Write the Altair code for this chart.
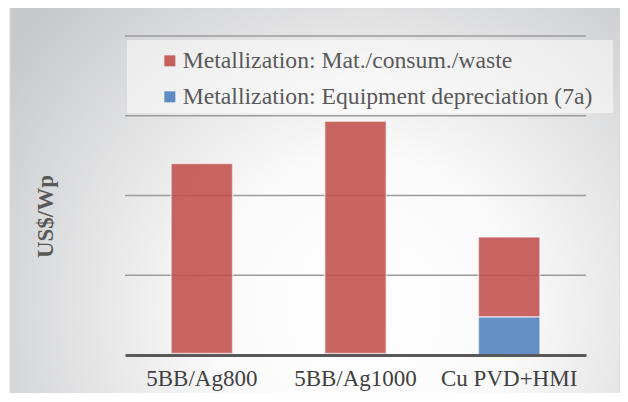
import altair as alt
import pandas as pd

categories = ["5BB/Ag800", "5BB/Ag1000", "Cu PVD+HMI"]
series_names = ["Metallization: Mat./consum./waste", "Metallization: Equipment depreciation (7a)"]
mat_values = [0.0238, 0.0291, 0.0100]
equip_values = [0.0002, 0.0002, 0.0048]
grid_ticks = [0.01, 0.02, 0.03, 0.04]

rows = []
for c, m, e in zip(categories, mat_values, equip_values):
    rows.append({"cat": c, "series": series_names[1], "value": e, "ord": 1})
    rows.append({"cat": c, "series": series_names[0], "value": m, "ord": 2})
df = pd.DataFrame(rows)

FONT = "Liberation Serif"
RED = "#C0504D"
BLUE = "#4F81BD"

yscale = alt.Scale(domain=[0, 0.04])
y_axis = alt.Axis(
    title="US$/Wp",
    titleFont=FONT,
    titleFontSize=23,
    titleFontWeight="bold",
    titleColor="#595959",
    titleX=-80,
    titleY=180,
    titleAngle=270,
    titleAlign="center",
    titleBaseline="middle",
    labels=False,
    ticks=False,
    domain=False,
    grid=False,
    zindex=1,
)
one = pd.DataFrame({"a": [0]})

bg = alt.Chart(one).mark_rect(
    fill={
        "gradient": "radial",
        "x1": 0.58, "y1": 0.68, "r1": 0,
        "x2": 0.58, "y2": 0.68, "r2": 0.72,
        "stops": [
            {"offset": 0, "color": "#ffffff"},
            {"offset": 0.35, "color": "#fafafa"},
            {"offset": 1, "color": "#c7c8ca"},
        ],
    },
    stroke="#d9d9d9",
    strokeWidth=1,
    clip=False,
).encode(
    x=alt.value(-115), x2=alt.value(495), y=alt.value(-32), y2=alt.value(362)
)

legend_bg = alt.Chart(one).mark_rect(
    fill="#ffffff", fillOpacity=0.5, clip=False
).encode(
    x=alt.value(2), x2=alt.value(488), y=alt.value(4), y2=alt.value(77)
)

grid = alt.Chart(pd.DataFrame({"t": grid_ticks})).mark_rule(
    color="#9c9c9c", strokeWidth=1.5
).encode(y=alt.Y("t:Q", scale=yscale, axis=y_axis))

bars = alt.Chart(df).mark_bar(
    fillOpacity=0.88, stroke="#ffffff", strokeOpacity=0.55, strokeWidth=1.5
).encode(
    x=alt.X(
        "cat:N",
        sort=categories,
        scale=alt.Scale(paddingInner=0.6, paddingOuter=0.3),
        axis=alt.Axis(
            title=None,
            labelFont=FONT,
            labelFontSize=23,
            labelColor="#404040",
            labelAngle=0,
            labelPadding=12,
            ticks=False,
            domainColor="#595959",
            domainWidth=3,
            zindex=1,
        ),
    ),
    y=alt.Y("value:Q", stack="zero", scale=yscale, axis=y_axis),
    color=alt.Color(
        "series:N",
        scale=alt.Scale(domain=series_names, range=[RED, BLUE]),
        legend=alt.Legend(
            title=None,
            orient="none",
            legendX=33,
            legendY=13,
            padding=0,
            symbolType="square",
            symbolSize=121,
            symbolStrokeWidth=0,
            symbolOpacity=0.9,
            labelFont=FONT,
            labelFontSize=23.7,
            labelColor="#595959",
            labelOffset=1,
            rowPadding=11,
            labelLimit=600,
        ),
    ),
    order=alt.Order("ord:Q"),
)

chart = alt.layer(bg, legend_bg, grid, bars).properties(
    width=461,
    height=319,
    autosize=alt.AutoSizeParams(type="none"),
    padding={"left": 117, "top": 28, "right": 34, "bottom": 38},
).configure_view(stroke=None).configure(background="#ffffff")

chart.save("out.html", embed_options={"renderer": "svg", "actions": False})
